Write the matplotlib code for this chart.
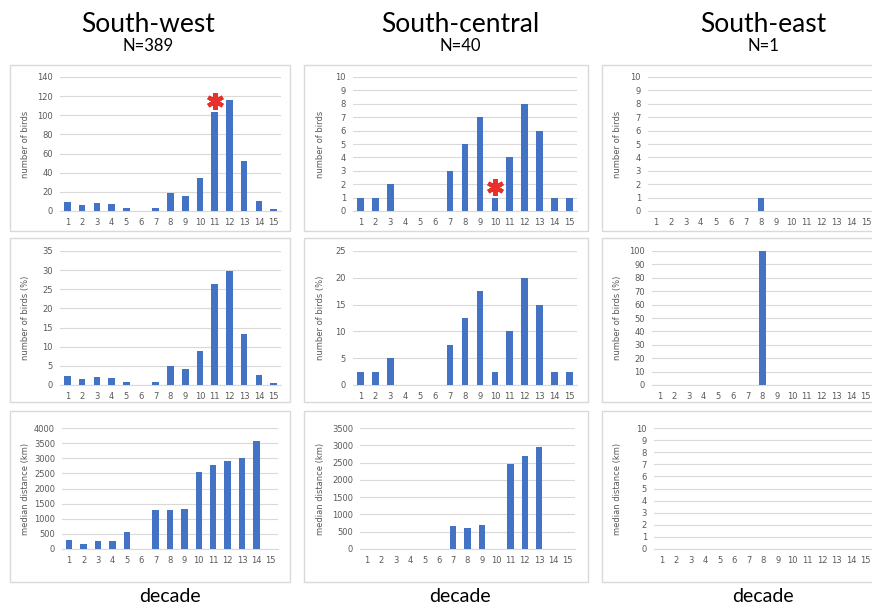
import matplotlib
matplotlib.use("Agg")
import matplotlib.pyplot as plt
from matplotlib.patches import Rectangle
import numpy as np

# --- data ---
decades = list(range(1, 16))

regions = ["South-west", "South-central", "South-east"]
region_n = ["N=389", "N=40", "N=1"]

sw_count = [9, 6, 8, 7, 3, 0, 3, 19, 16, 35, 103, 116, 52, 10, 2]
sc_count = [1, 1, 2, 0, 0, 0, 3, 5, 7, 1, 4, 8, 6, 1, 1]
se_count = [0, 0, 0, 0, 0, 0, 0, 1, 0, 0, 0, 0, 0, 0, 0]

sw_pct = [2.3, 1.5, 2.1, 1.8, 0.8, 0, 0.8, 4.9, 4.1, 9.0, 26.5, 29.8, 13.4, 2.6, 0.5]
sc_pct = [2.5, 2.5, 5, 0, 0, 0, 7.5, 12.5, 17.5, 2.5, 10, 20, 15, 2.5, 2.5]
se_pct = [0, 0, 0, 0, 0, 0, 0, 100, 0, 0, 0, 0, 0, 0, 0]

sw_dist = [290, 150, 270, 250, 570, 0, 1300, 1300, 1320, 2560, 2780, 2920, 3000, 3570, 0]
sc_dist = [0, 0, 0, 0, 0, 0, 660, 620, 680, 0, 2460, 2700, 2960, 0, 0]
se_dist = [0] * 15

row_labels = ["number of birds", "number of birds (%)", "median distance (km)"]
y_limits = [[140, 10, 10], [35, 25, 100], [4000, 3500, 10]]
y_steps = [[20, 1, 1], [5, 5, 10], [500, 500, 1]]

# significance stars: (row, col, decade, y value)
stars = [(0, 0, 11, 115), (0, 1, 10, 1.8)]

# --- layout in pixels ---
W, H = 872, 608
BAR = "#4472C4"
GRID = "#d9d9d9"
TXT = "#595959"

row_y = [(77, 211), (251, 385), (428, 549)]
col_x = [[(60, 281), (353, 577), (648, 874)],
         [(60, 281), (353, 577), (652, 873)],
         [(62, 278), (360, 575), (654, 873)]]
ylabel_x = [30, 325, 622]
box_x = [(10, 290), (304, 588), (602, 890)]
box_y = [(65, 231), (238, 402), (411, 582)]

data = [[sw_count, sc_count, se_count],
        [sw_pct, sc_pct, se_pct],
        [sw_dist, sc_dist, se_dist]]

fig = plt.figure(figsize=(W / 100, H / 100), dpi=100)

# panel frames
for (by0, by1) in box_y:
    for (bx0, bx1) in box_x:
        fig.patches.append(Rectangle((bx0 / W, 1 - by1 / H), (bx1 - bx0) / W, (by1 - by0) / H,
                                     transform=fig.transFigure, fill=False,
                                     edgecolor=GRID, linewidth=1.0))

for r in range(3):
    for c in range(3):
        x0, x1 = col_x[r][c]
        y0, y1 = row_y[r]
        ax = fig.add_axes([x0 / W, 1 - y1 / H, (x1 - x0) / W, (y1 - y0) / H])
        ax.bar(decades, data[r][c], width=0.45, color=BAR, zorder=3)
        ax.set_xlim(0.5, 15.5)
        ax.set_ylim(0, y_limits[r][c])
        ax.set_yticks(np.arange(0, y_limits[r][c] + 0.001, y_steps[r][c]))
        ax.set_xticks(decades)
        ax.grid(axis="y", color=GRID, linewidth=0.8, zorder=0)
        for s in ["top", "right", "left"]:
            ax.spines[s].set_visible(False)
        ax.spines["bottom"].set_color(GRID)
        ax.tick_params(length=0, labelsize=6, labelcolor=TXT, pad=5)
        ax.set_ylabel(row_labels[r], fontsize=6, color=TXT)
        ax.yaxis.set_label_coords((ylabel_x[c] - x0) / (x1 - x0), 0.5)
        for (sr, sc, sx, sy) in stars:
            if sr == r and sc == c:
                ax.plot([sx], [sy], marker=(6, 2, 0), color="#e8312a",
                        markersize=12, markeredgewidth=3, zorder=4)

title_x = [148, 460, 763]
for c in range(3):
    fig.text(title_x[c] / W, 1 - 24 / H, regions[c], fontsize=19, family="Lato",
             ha="center", va="center", color="black")
    fig.text(title_x[c] / W, 1 - 46 / H, region_n[c], fontsize=12, family="Lato",
             ha="center", va="center", color="black")
    fig.text([170, 460, 763][c] / W, 1 - 597 / H, "decade", fontsize=14, family="Lato",
             ha="center", va="center", color="black")

fig.savefig("out.png", dpi=100)
